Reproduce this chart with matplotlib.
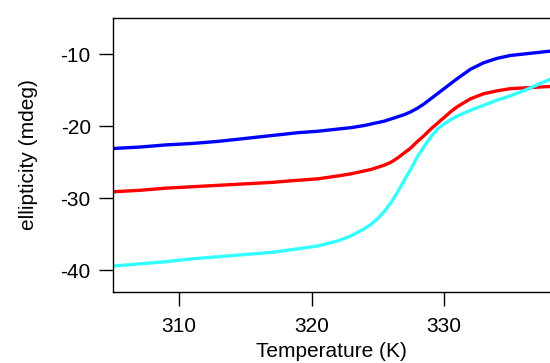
import matplotlib
matplotlib.use("Agg")
import matplotlib.pyplot as plt

plt.rcParams['font.family'] = ['Liberation Sans', 'DejaVu Sans']
plt.rcParams['axes.unicode_minus'] = False

# temperature (K) and ellipticity (mdeg) for the three samples
temp = [305, 307, 309, 311, 313, 315, 317, 319, 320.5, 322, 323, 324, 324.5, 325, 325.5,
        326, 326.5, 327, 327.5, 328, 328.5, 329, 329.5, 330, 330.5, 331, 332, 333, 334,
        335, 336, 337, 338]
blue_vals = [-23.1, -22.9, -22.6, -22.4, -22.1, -21.7, -21.3, -20.9, -20.7, -20.4,
             -20.2, -19.9, -19.7, -19.5, -19.3, -19.0, -18.7, -18.4, -18.0, -17.5,
             -16.9, -16.2, -15.5, -14.8, -14.1, -13.4, -12.1, -11.2, -10.6, -10.2,
             -10.0, -9.8, -9.6]
red_vals = [-29.1, -28.9, -28.6, -28.4, -28.2, -28.0, -27.8, -27.5, -27.3, -26.9,
            -26.6, -26.2, -26.0, -25.7, -25.4, -25.0, -24.4, -23.7, -23.0, -22.1,
            -21.3, -20.4, -19.6, -18.8, -18.0, -17.3, -16.2, -15.5, -15.1, -14.8,
            -14.7, -14.6, -14.5]
cyan_vals = [-39.4, -39.1, -38.8, -38.4, -38.1, -37.8, -37.5, -37.0, -36.6, -35.9,
             -35.2, -34.2, -33.6, -32.8, -31.8, -30.6, -29.1, -27.5, -25.9, -24.2,
             -22.8, -21.5, -20.4, -19.7, -19.1, -18.6, -17.8, -17.1, -16.4, -15.8,
             -15.1, -14.3, -13.5]

x_ticks = [310, 320, 330]
y_ticks = [-40, -30, -20, -10]

fig = plt.figure(figsize=(5.5, 3.63), dpi=100)
ax = fig.add_axes([113 / 550, 1 - 292 / 363, 437 / 550, 274 / 363])

for vals, col in [(blue_vals, '#0000ff'), (red_vals, '#ff0000'), (cyan_vals, '#33ffff')]:
    ax.plot(temp, vals, color=col, lw=2.4)

ax.set_xlim(305, 338)
ax.set_ylim(-43, -5)
ax.set_xticks(x_ticks)
ax.set_yticks(y_ticks)
ax.spines['right'].set_visible(False)
for s in ['left', 'bottom', 'top']:
    ax.spines[s].set_linewidth(1.0)
ax.tick_params(direction='out', length=10, width=1, labelsize=15, pad=8)
ax.tick_params(axis='y', pad=6)

ax.set_xlabel("Temperature (K)", fontsize=15, labelpad=4)
ax.set_ylabel("ellipticity (mdeg)", fontsize=15, labelpad=16)

fig.savefig("out.png", dpi=100)
